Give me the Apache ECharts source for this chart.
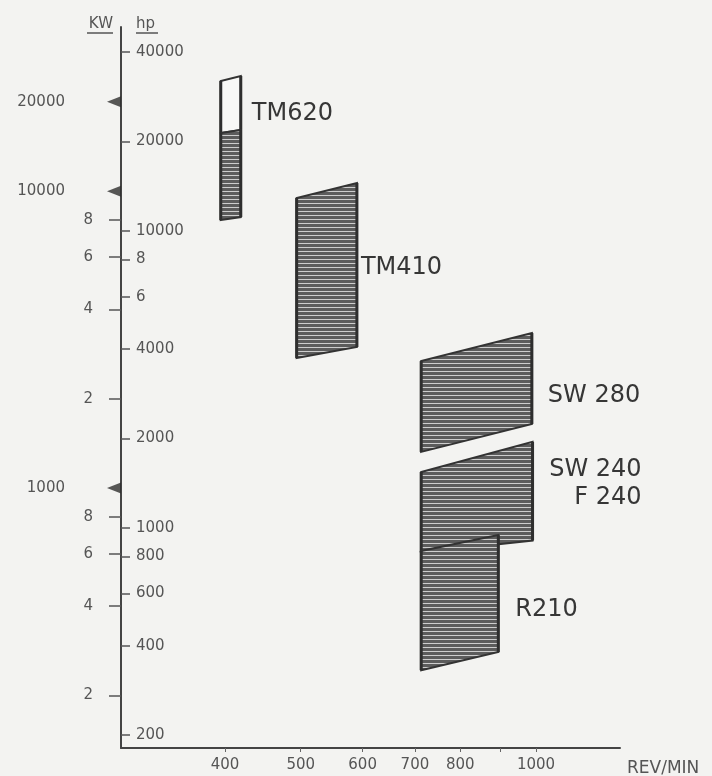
<!DOCTYPE html>
<html><head><meta charset="utf-8">
<script src="https://cdn.jsdelivr.net/npm/echarts@6/dist/echarts.min.js"></script>
<style>html,body{margin:0;padding:0;background:#f3f3f1}#c{width:712px;height:776px}</style>
</head><body><div id="c"></div>
<script>
// ---- data ----
const engineNames   = ['TM620', 'TM410', 'SW 280', 'SW 240\nF 240', 'R210'];
const rpmLow        = [395, 494, 713, 713, 713];
const rpmHigh       = [419, 590, 988, 990, 895];
const hpBottomLeft  = [10870, 3730, 1800, 825, 331];
const hpBottomRight = [11130, 4060, 2235, 905, 381];
const hpTopLeft     = [21350, 12900, 3640, 1540, 835];
const hpTopRight    = [21870, 14490, 4525, 1945, 944];
const tm620OpenTop  = [31970, 33240];   // upper open (outlined) range of TM620

const hpTicks   = [200, 400, 600, 800, 1000, 2000, 4000, 6000, 8000, 10000, 20000, 40000];
const kwTicks   = [200, 400, 600, 800, 2000, 4000, 6000, 8000];
const kwMarked  = [1000, 10000, 20000];
const kwLabels  = [200, 400, 600, 800, 1000, 2000, 4000, 6000, 8000, 10000, 20000];
const rpmTicks  = [400, 500, 600, 700, 800, 900, 1000];
const rpmLabels = [400, 500, 600, 700, 800, 1000];

const KW_PER_HP = 0.7355;
const HP_MIN = 181, HP_MAX = 48600;
const RPM_MIN = 294.4, RPM_MAX = 1281;

// ---- layout / style ----
const FONT = 'DejaVu Sans';
const labelLayout = [
  {dx: 11, dy: -60, align: 'left'},
  {dx: 4, dy: 3, align: 'left'},
  {dx: 16, dy: 17, align: 'left'},
  {dx: 109, dy: -7, align: 'right'},
  {dx: 17, dy: 16, align: 'left'}
];

const pc = document.createElement('canvas');
pc.width = 8; pc.height = 4;
const pctx = pc.getContext('2d');
pctx.fillStyle = '#5c5c5c'; pctx.fillRect(0, 0, 8, 3);
pctx.fillStyle = '#cdcdcd'; pctx.fillRect(0, 3, 8, 1);
const hatch = {image: pc, repeat: 'repeat'};

const shapeData = engineNames.map((n, i) =>
  [rpmLow[i], rpmHigh[i], hpBottomLeft[i], hpBottomRight[i], hpTopLeft[i], hpTopRight[i]]);
const openData = [[rpmLow[0], rpmHigh[0], hpTopLeft[0], hpTopRight[0], tm620OpenTop[0], tm620OpenTop[1]]];

function shapeRenderer(filled) {
  return function (params, api) {
    const x0 = api.value(0), x1 = api.value(1);
    const bl = api.coord([x0, api.value(2)]), br = api.coord([x1, api.value(3)]);
    const tl = api.coord([x0, api.value(4)]), tr = api.coord([x1, api.value(5)]);
    const children = [
      {type: 'polygon', shape: {points: [bl, br, tr, tl]},
       style: {fill: filled ? hatch : '#f8f8f6', stroke: '#333', lineWidth: 2}},
      {type: 'line', shape: {x1: tl[0], y1: tl[1], x2: bl[0], y2: bl[1]}, style: {stroke: '#2e2e2e', lineWidth: 3}},
      {type: 'line', shape: {x1: tr[0], y1: tr[1], x2: br[0], y2: br[1]}, style: {stroke: '#2e2e2e', lineWidth: 3}}
    ];
    if (filled) {
      const idx = params.dataIndex, lay = labelLayout[idx];
      children.push({type: 'text', x: br[0] + lay.dx, y: (br[1] + tr[1]) / 2 + lay.dy,
        style: {text: engineNames[idx], font: '24px "' + FONT + '"', fill: '#363636',
                align: lay.align, verticalAlign: 'middle', lineHeight: 28}});
    }
    return {type: 'group', children};
  };
}

const tickText = {color: '#555', fontSize: 15, fontFamily: FONT};
const nameRich = {
  t: {color: '#555', fontSize: 15, fontFamily: FONT, lineHeight: 16},
  u: {height: 1.5, backgroundColor: '#555'}
};

const option = {
  backgroundColor: '#f3f3f1',
  animation: false,
  grid: {left: 121, right: 92, top: 27, bottom: 28, containLabel: false, outerBoundsMode: 'none'},
  xAxis: {
    type: 'log', min: RPM_MIN, max: RPM_MAX,
    axisLine: {show: true, lineStyle: {color: '#444', width: 2}},
    axisTick: {show: true, length: 4, customValues: rpmTicks, lineStyle: {color: '#666'}},
    axisLabel: Object.assign({customValues: rpmLabels, margin: 10,
      formatter: v => String(Math.round(v))}, tickText),
    splitLine: {show: false}, minorTick: {show: false},
    name: 'REV/MIN', nameLocation: 'end', nameGap: 7,
    nameTextStyle: {color: '#555', fontSize: 17, fontFamily: FONT, align: 'left',
                    verticalAlign: 'top', padding: [12, 0, 0, 0]}
  },
  yAxis: [
    {
      type: 'log', min: HP_MIN, max: HP_MAX, position: 'left',
      axisLine: {show: true, onZero: false, lineStyle: {color: '#444', width: 2}},
      axisTick: {show: true, inside: true, length: 9, customValues: hpTicks, lineStyle: {color: '#555', width: 1.5}},
      axisLabel: Object.assign({inside: true, margin: 15, customValues: hpTicks,
        formatter: v => { v = Math.round(v); return v === 8000 ? '8' : v === 6000 ? '6' : String(v); }}, tickText),
      splitLine: {show: false}, minorTick: {show: false},
      name: '{t|hp}\n{u|}', nameLocation: 'end', nameGap: 2,
      nameTextStyle: {align: 'left', verticalAlign: 'middle', padding: [0, 0, 0, 15],
                      rich: Object.assign({}, nameRich, {u: {height: 1.5, width: 22, backgroundColor: '#555'}})}
    },
    {
      type: 'log', min: HP_MIN * KW_PER_HP, max: HP_MAX * KW_PER_HP, position: 'left',
      axisLine: {show: false},
      axisTick: {show: true, inside: false, length: 12, customValues: kwTicks, lineStyle: {color: '#555', width: 1.5}},
      axisLabel: Object.assign({margin: 28, customValues: kwLabels,
        formatter: v => { v = Math.round(v); return kwMarked.indexOf(v) >= 0 ? '{big|' + v + '}' : String(v).charAt(0); },
        rich: {big: {padding: [0, 28, 0, 0], color: '#555', fontSize: 15, fontFamily: FONT}}}, tickText),
      splitLine: {show: false}, minorTick: {show: false},
      name: '{t|KW}\n{u|}', nameLocation: 'end', nameGap: 2,
      nameTextStyle: {align: 'right', verticalAlign: 'middle', padding: [0, 8, 0, 0],
                      rich: Object.assign({}, nameRich, {u: {height: 1.5, width: 26, backgroundColor: '#555'}})}
    }
  ],
  series: [
    {type: 'custom', name: 'TM620 open', xAxisIndex: 0, yAxisIndex: 0, silent: true,
     renderItem: shapeRenderer(false), data: openData, z: 2},
    {type: 'custom', name: 'engines', xAxisIndex: 0, yAxisIndex: 0, silent: true,
     renderItem: shapeRenderer(true), data: shapeData, z: 3},
    {type: 'scatter', xAxisIndex: 0, yAxisIndex: 1, silent: true, clip: false,
     symbol: 'triangle', symbolSize: [11, 14], symbolRotate: 90, symbolOffset: [-7, 0],
     itemStyle: {color: '#2e2e2e'}, data: kwMarked.map(v => [RPM_MIN, v]), z: 5}
  ]
};
echarts.init(document.getElementById('c')).setOption(option);
</script></body></html>
